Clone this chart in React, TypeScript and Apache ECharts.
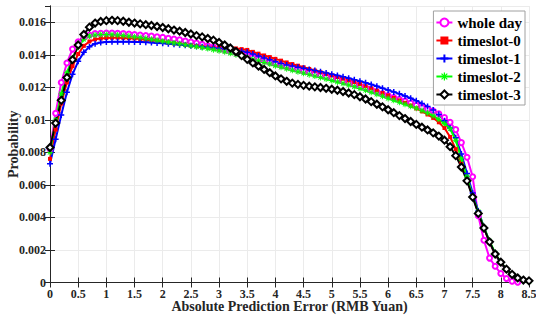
import React, { useEffect, useRef } from "react";
import * as echarts from "echarts";

// Absolute prediction error (RMB Yuan), sampled every 0.1
const errorX = [
  0, 0.1, 0.2, 0.3, 0.4, 0.5, 0.6, 0.7, 0.8, 0.9,
  1, 1.1, 1.2, 1.3, 1.4, 1.5, 1.6, 1.7, 1.8, 1.9,
  2, 2.1, 2.2, 2.3, 2.4, 2.5, 2.6, 2.7, 2.8, 2.9,
  3, 3.1, 3.2, 3.3, 3.4, 3.5, 3.6, 3.7, 3.8, 3.9,
  4, 4.1, 4.2, 4.3, 4.4, 4.5, 4.6, 4.7, 4.8, 4.9,
  5, 5.1, 5.2, 5.3, 5.4, 5.5, 5.6, 5.7, 5.8, 5.9,
  6, 6.1, 6.2, 6.3, 6.4, 6.5, 6.6, 6.7, 6.8, 6.9,
  7, 7.1, 7.2, 7.3, 7.4, 7.5, 7.6, 7.7, 7.8, 7.9,
  8, 8.1, 8.2, 8.3, 8.4, 8.5,
];

// Probabilities, in thousandths (x 1e-3)
const wholeDay = [
  8.2, 10.4, 12.3, 13.5, 14.35, 14.8, 15.08, 15.22, 15.3, 15.33,
  15.34, 15.34, 15.32, 15.3, 15.27, 15.24, 15.21, 15.18, 15.15, 15.11,
  15.07, 15.02, 14.97, 14.92, 14.85, 14.79, 14.72, 14.64, 14.56, 14.47,
  14.38, 14.3, 14.22, 14.13, 14.03, 13.94, 13.84, 13.74, 13.64, 13.54,
  13.45, 13.36, 13.27, 13.18, 13.09, 13.0, 12.92, 12.84, 12.75, 12.66,
  12.57, 12.48, 12.38, 12.28, 12.18, 12.07, 11.96, 11.85, 11.73, 11.61,
  11.5, 11.38, 11.27, 11.15, 11.03, 10.9, 10.78, 10.66, 10.55, 10.38,
  10.15, 9.85, 9.4, 8.6, 7.7, 6.5, 4.1, 2.6, 1.5, 1.0,
  0.55, 0.25, 0.08, 0.02, null, null,
];
const timeslot0 = [
  7.6, 9.4, 11.0, 12.3, 13.3, 14.05, 14.55, 14.82, 14.95, 15.0,
  15.03, 15.05, 15.05, 15.04, 15.02, 15.0, 14.97, 14.93, 14.89, 14.85,
  14.8, 14.75, 14.7, 14.66, 14.61, 14.57, 14.53, 14.49, 14.46, 14.44,
  14.42, 14.42, 14.41, 14.39, 14.35, 14.3, 14.18, 14.07, 13.96, 13.86,
  13.75, 13.64, 13.53, 13.43, 13.33, 13.23, 13.13, 13.03, 12.93, 12.83,
  12.73, 12.63, 12.53, 12.42, 12.32, 12.2, 12.07, 11.94, 11.8, 11.66,
  11.5, 11.35, 11.2, 11.05, 10.88, 10.7, 10.52, 10.33, 10.12, 9.85,
  9.5, 8.95, 8.2, 7.3, 6.3, 5.3, 4.3, 3.35, 2.45, 1.72,
  1.18, 0.76, 0.45, 0.25, 0.12, 0.06,
];
const timeslot1 = [
  7.3, 8.8, 10.3, 11.7, 12.8, 13.6, 14.15, 14.5, 14.68, 14.75,
  14.78, 14.8, 14.8, 14.8, 14.8, 14.79, 14.78, 14.77, 14.75, 14.73,
  14.71, 14.68, 14.65, 14.62, 14.59, 14.56, 14.53, 14.5, 14.47, 14.44,
  14.4, 14.36, 14.32, 14.27, 14.22, 14.15, 14.05, 13.93, 13.81, 13.7,
  13.58, 13.47, 13.38, 13.31, 13.24, 13.17, 13.1, 13.03, 12.96, 12.88,
  12.8, 12.73, 12.65, 12.56, 12.47, 12.38, 12.28, 12.18, 12.07, 11.95,
  11.83, 11.72, 11.6, 11.47, 11.33, 11.18, 11.0, 10.82, 10.6, 10.33,
  9.95, 9.5, 8.9, 7.9, 6.7, 5.5, 4.4, 3.4, 2.5, 1.75,
  1.2, 0.78, 0.45, 0.25, 0.12, 0.06,
];
const timeslot2 = [
  8.0, 10.0, 11.6, 12.9, 13.8, 14.5, 14.95, 15.15, 15.22, 15.25,
  15.25, 15.24, 15.22, 15.19, 15.15, 15.11, 15.06, 15.01, 14.96, 14.9,
  14.84, 14.79, 14.73, 14.68, 14.62, 14.56, 14.5, 14.44, 14.38, 14.31,
  14.25, 14.18, 14.1, 14.01, 13.92, 13.83, 13.73, 13.63, 13.53, 13.43,
  13.33, 13.23, 13.14, 13.05, 12.96, 12.87, 12.78, 12.69, 12.6, 12.51,
  12.42, 12.33, 12.24, 12.14, 12.04, 11.93, 11.82, 11.7, 11.58, 11.45,
  11.32, 11.2, 11.08, 10.96, 10.84, 10.72, 10.58, 10.42, 10.25, 10.03,
  9.78, 9.45, 8.75, 7.6, 6.5, 5.3, 4.35, 3.4, 2.55, 1.8,
  1.25, 0.8, 0.47, 0.26, 0.13, 0.07,
];
const timeslot3 = [
  8.3, 9.8, 11.2, 12.6, 13.7, 14.6, 15.25, 15.7, 15.95, 16.05,
  16.1, 16.12, 16.1, 16.06, 16.0, 15.95, 15.9, 15.85, 15.8, 15.74,
  15.68, 15.6, 15.52, 15.45, 15.37, 15.28, 15.18, 15.1, 15.0, 14.9,
  14.76, 14.6, 14.42, 14.2, 13.95, 13.72, 13.5, 13.3, 13.1, 12.9,
  12.7, 12.52, 12.37, 12.26, 12.18, 12.12, 12.07, 12.03, 11.99, 11.94,
  11.88, 11.82, 11.74, 11.65, 11.55, 11.42, 11.28, 11.12, 10.96, 10.8,
  10.62, 10.44, 10.26, 10.08, 9.9, 9.72, 9.55, 9.38, 9.2, 9.0,
  8.75, 8.35, 7.8, 7.1, 6.25, 5.25, 4.25, 3.35, 2.5, 1.75,
  1.25, 0.82, 0.5, 0.28, 0.15, 0.1,
];

const seriesNames = ["whole day", "timeslot-0", "timeslot-1", "timeslot-2", "timeslot-3"];

const FONT = "Liberation Serif";

function toPairs(vals: (number | null)[]) {
  return errorX.map((x, i) => [x, vals[i] == null ? null : (vals[i] as number) / 1000]);
}

export default function App() {
  const ref = useRef<HTMLDivElement>(null);

  useEffect(() => {
    if (!ref.current) return;
    const chart = echarts.init(ref.current, undefined, { renderer: "svg" });

    const labelStyle = {
      fontFamily: FONT,
      fontWeight: "bold" as const,
      fontSize: 12,
      color: "#262626",
    };
    const axisLine = { show: true, lineStyle: { color: "#262626", width: 1 } };
    const tick = { show: true, inside: true, length: 5, lineStyle: { color: "#262626" } };
    const split = { show: true, lineStyle: { color: "#ebebeb", width: 1 } };

    const plusPath = "path://M3,0H5V3H8V5H5V8H3V5H0V3H3Z";
    const starPath =
      "path://M3.4,0H4.6V2.6L6.5,0.7L7.3,1.5L5.4,3.4H8V4.6H5.4L7.3,6.5L6.5,7.3L4.6,5.4V8H3.4V5.4L1.5,7.3L0.7,6.5L2.6,4.6H0V3.4H2.6L0.7,1.5L1.5,0.7L3.4,2.6Z";

    const defs = [
      { name: seriesNames[0], data: wholeDay, color: "#ff00ff", symbol: "emptyCircle", size: 5, bw: 1.5 },
      { name: seriesNames[1], data: timeslot0, color: "#ff0000", symbol: "rect", size: 4, bw: 0 },
      { name: seriesNames[2], data: timeslot1, color: "#0000ff", symbol: plusPath, size: 6, bw: 0 },
      { name: seriesNames[3], data: timeslot2, color: "#00ff00", symbol: starPath, size: 6, bw: 0 },
      { name: seriesNames[4], data: timeslot3, color: "#000000", symbol: "emptyDiamond", size: 7, bw: 2 },
    ];

    chart.setOption({
      animation: false,
      backgroundColor: "#ffffff",
      grid: {
        left: 50,
        right: 7,
        top: 6,
        bottom: 35.5,
        containLabel: false,
        outerBoundsMode: "none",
      },
      legend: {
        orient: "vertical",
        right: 11,
        top: 11,
        padding: [4, 3, 3, 2],
        itemGap: 3,
        itemWidth: 16,
        itemHeight: 10,
        backgroundColor: "#ffffff",
        borderColor: "#a0a0a0",
        borderWidth: 1,
        borderRadius: 0,
        selectedMode: false,
        data: seriesNames,
        textStyle: { fontFamily: FONT, fontWeight: "bold", fontSize: 15, color: "#000" },
      },
      xAxis: [
        {
          type: "value",
          min: 0,
          max: 8.5,
          interval: 0.5,
          name: "Absolute Prediction Error (RMB Yuan)",
          nameLocation: "middle",
          nameGap: 17,
          nameMoveOverlap: false,
          nameTextStyle: { fontFamily: FONT, fontWeight: "bold", fontSize: 14, color: "#262626" },
          axisLine,
          axisTick: tick,
          splitLine: split,
          axisLabel: { ...labelStyle, margin: 5 },
        },
        {
          type: "value",
          position: "top",
          min: 0,
          max: 8.5,
          interval: 0.5,
          axisLine,
          axisTick: tick,
          splitLine: { show: false },
          axisLabel: { show: false },
        },
      ],
      yAxis: [
        {
          type: "value",
          min: 0,
          max: 0.017,
          interval: 0.002,
          name: "Probability",
          nameLocation: "middle",
          nameGap: 30,
          nameMoveOverlap: false,
          nameTextStyle: { fontFamily: FONT, fontWeight: "bold", fontSize: 14, color: "#262626" },
          axisLine,
          axisTick: tick,
          splitLine: split,
          axisLabel: {
            ...labelStyle,
            margin: 4,
            showMaxLabel: false,
            formatter: (v: number) => (v === 0 ? "0" : String(+v.toFixed(3))),
          },
        },
        {
          type: "value",
          position: "right",
          min: 0,
          max: 0.017,
          interval: 0.002,
          axisLine,
          axisTick: tick,
          splitLine: { show: false },
          axisLabel: { show: false },
        },
      ],
      series: defs.map((d) => ({
        name: d.name,
        type: "line",
        xAxisIndex: 0,
        yAxisIndex: 0,
        data: toPairs(d.data),
        symbol: d.symbol,
        symbolSize: d.size,
        showAllSymbol: true,
        lineStyle: { color: d.color, width: 2 },
        itemStyle: { color: d.color, borderColor: d.color, borderWidth: d.bw },
        emphasis: { disabled: true },
      })),
    });

    return () => chart.dispose();
  }, []);

  return (
    <div
      ref={ref}
      style={{ position: "absolute", left: 0, top: 0, width: 536, height: 318 }}
    />
  );
}
